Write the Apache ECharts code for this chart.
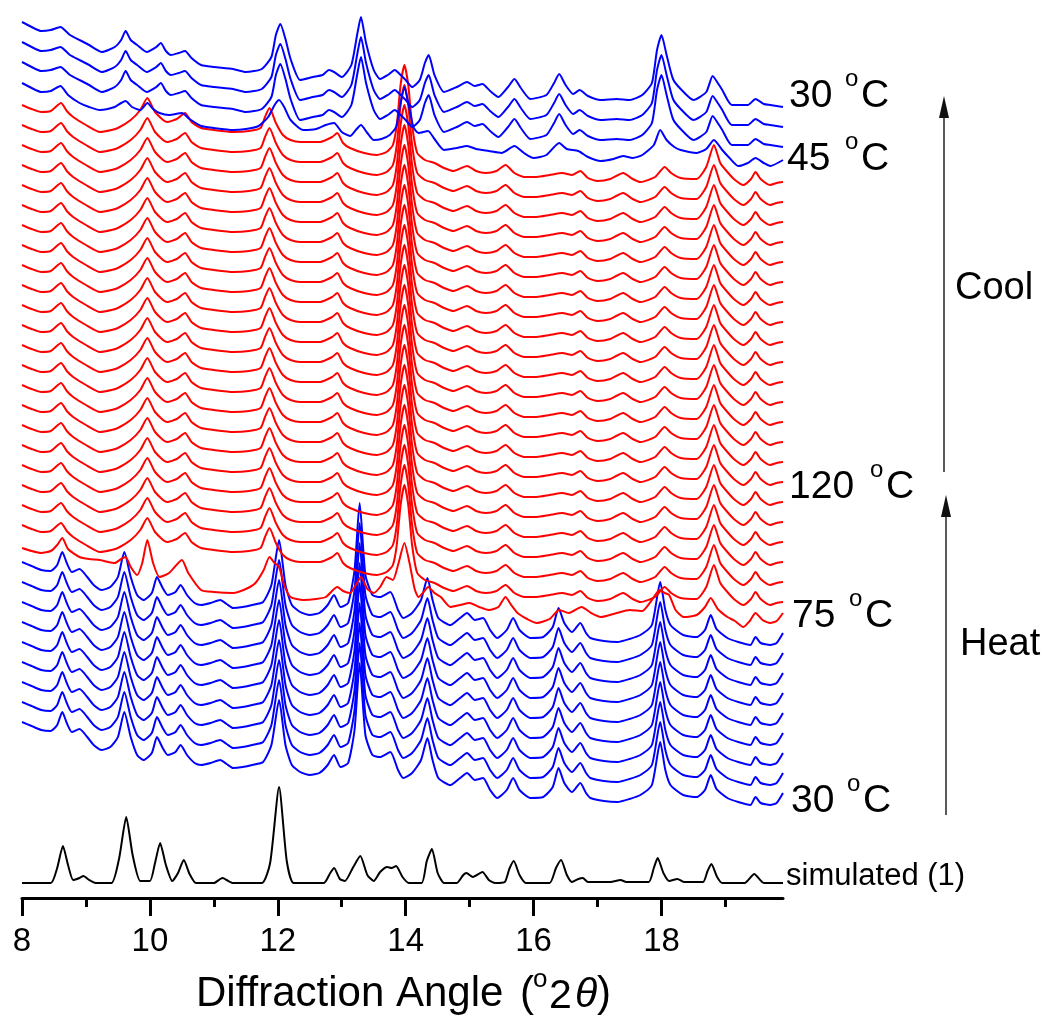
<!DOCTYPE html>
<html><head><meta charset="utf-8">
<script src="https://cdn.jsdelivr.net/npm/echarts@6/dist/echarts.min.js"></script>
<style>html,body{margin:0;padding:0;background:#fff}#c{width:1050px;height:1018px}</style>
</head><body><div id="c"></div>
<script>
// ---- data (2theta, intensity above each trace's baseline) ----
const simulated = [[8.0,0],[8.45,0],[8.55,15],[8.64,37],[8.72,18],[8.8,3],[8.9,5],[8.96,7],[9.05,3],[9.15,0],[9.4,0],[9.52,25],[9.63,66],[9.73,28],[9.85,2],[10.0,2],[10.08,20],[10.16,40],[10.25,18],[10.35,2],[10.44,10],[10.53,23],[10.62,9],[10.72,0],[11.0,0],[11.1,4],[11.14,5],[11.2,3],[11.3,0],[11.75,0],[11.88,20],[12.02,96],[12.14,22],[12.25,0],[12.72,0],[12.82,10],[12.88,15],[12.97,4],[13.05,2],[13.18,16],[13.29,27],[13.4,8],[13.5,2],[13.6,11],[13.71,16],[13.78,15],[13.85,17],[13.95,6],[14.05,0],[14.25,0],[14.33,22],[14.41,34],[14.5,10],[14.6,0],[14.8,0],[14.9,8],[14.95,10],[15.05,6],[15.2,11],[15.3,3],[15.4,0],[15.55,1],[15.62,14],[15.69,22],[15.78,8],[15.88,0],[16.25,0],[16.35,15],[16.43,23],[16.52,8],[16.6,1],[16.7,4],[16.77,5],[16.85,1],[17.2,1],[17.36,3],[17.45,1],[17.8,1],[17.88,15],[17.94,25],[18.03,10],[18.12,2],[18.25,4],[18.35,1],[18.65,1],[18.72,12],[18.78,19],[18.87,6],[18.95,0],[19.3,0],[19.45,9],[19.6,0],[19.9,0]];
const simulatedBaseline = 15;

const heatBlue = [[8.0,83],[8.15,79],[8.3,75],[8.45,74],[8.55,80],[8.63,93],[8.7,82],[8.78,73],[8.9,76],[9.02,68],[9.12,60],[9.25,55],[9.38,58],[9.5,68],[9.6,93],[9.7,68],[9.8,50],[9.9,45],[10.03,52],[10.11,68],[10.2,57],[10.28,50],[10.4,53],[10.48,60],[10.58,50],[10.7,42],[10.8,40],[10.95,42],[11.1,45],[11.2,41],[11.3,37],[11.45,38],[11.6,40],[11.77,43],[11.9,60],[12.02,105],[12.12,60],[12.22,40],[12.35,33],[12.5,30],[12.65,32],[12.78,40],[12.88,50],[12.98,38],[13.1,42],[13.2,75],[13.28,142],[13.37,70],[13.48,50],[13.6,48],[13.76,53],[13.88,35],[13.96,27],[14.1,32],[14.24,45],[14.34,67],[14.42,45],[14.51,27],[14.7,20],[14.85,27],[14.96,32],[15.08,25],[15.21,27],[15.32,15],[15.43,7],[15.58,15],[15.68,27],[15.78,15],[15.95,7],[16.15,8],[16.3,18],[16.39,37],[16.48,22],[16.6,13],[16.73,22],[16.82,12],[16.89,7],[17.1,4],[17.31,3],[17.5,6],[17.67,10],[17.85,20],[17.98,63],[18.06,35],[18.14,20],[18.34,10],[18.55,8],[18.68,15],[18.77,30],[18.86,16],[19.03,7],[19.2,3],[19.39,0],[19.47,8],[19.55,2],[19.7,0],[19.8,2],[19.9,12]];

const transition75 = [[8.0,77],[8.15,74],[8.3,72],[8.45,74],[8.55,80],[8.63,87],[8.72,76],[8.9,68],[9.05,66],[9.22,65],[9.35,63],[9.45,62],[9.55,66],[9.62,68],[9.7,58],[9.8,50],[9.88,62],[9.96,85],[10.05,62],[10.15,48],[10.3,52],[10.5,65],[10.6,52],[10.8,35],[11.0,33],[11.3,32],[11.5,36],[11.65,42],[11.78,55],[11.87,68],[11.95,62],[12.02,58],[12.1,40],[12.2,28],[12.4,25],[12.6,26],[12.75,28],[12.93,38],[13.02,34],[13.13,32],[13.22,40],[13.3,48],[13.4,36],[13.5,32],[13.6,38],[13.7,48],[13.8,45],[13.88,60],[13.98,82],[14.06,62],[14.14,36],[14.2,28],[14.28,33],[14.35,38],[14.45,32],[14.55,28],[14.7,18],[14.85,20],[15.0,22],[15.15,18],[15.3,15],[15.45,18],[15.56,28],[15.65,20],[15.75,12],[15.9,6],[16.05,2],[16.25,6],[16.4,15],[16.55,12],[16.75,18],[16.9,12],[17.05,8],[17.3,12],[17.5,15],[17.7,14],[17.85,25],[17.97,35],[18.05,32],[18.12,30],[18.22,15],[18.35,8],[18.55,10],[18.68,18],[18.77,27],[18.88,16],[19.03,8],[19.15,4],[19.28,-2],[19.38,4],[19.47,12],[19.58,5],[19.7,2],[19.8,4],[19.9,12]];

const redPhase = [[8.0,80],[8.15,76],[8.3,73],[8.45,74],[8.61,82],[8.7,74],[8.8,68],[9.0,60],[9.22,53],[9.4,55],[9.5,57],[9.7,65],[9.85,75],[9.96,87],[10.08,73],[10.27,63],[10.42,66],[10.55,72],[10.65,63],[10.8,57],[11.0,55],[11.3,53],[11.55,54],[11.73,57],[11.8,68],[11.87,77],[11.97,62],[12.08,50],[12.2,45],[12.35,43],[12.66,43],[12.85,48],[12.93,52],[13.02,42],[13.13,37],[13.35,32],[13.55,30],[13.7,33],[13.8,40],[13.86,60],[13.92,100],[13.98,120],[14.04,100],[14.1,60],[14.18,32],[14.3,25],[14.45,22],[14.6,17],[14.75,14],[14.96,19],[15.1,14],[15.25,12],[15.42,14],[15.56,20],[15.7,12],[15.85,8],[16.05,8],[16.25,10],[16.45,12],[16.6,10],[16.73,14],[16.85,7],[17.0,4],[17.2,6],[17.4,12],[17.55,6],[17.67,3],[17.9,8],[18.05,18],[18.15,12],[18.3,7],[18.55,6],[18.7,18],[18.82,40],[18.92,22],[19.03,13],[19.15,5],[19.28,0],[19.4,6],[19.47,13],[19.55,6],[19.7,0],[19.8,2],[19.9,3]];

const cool45 = [[8.0,82],[8.15,77],[8.3,73],[8.45,74],[8.6,79],[8.72,70],[8.9,62],[9.05,58],[9.22,55],[9.45,58],[9.55,62],[9.62,64],[9.72,58],[9.85,55],[9.96,62],[10.05,56],[10.15,52],[10.3,50],[10.5,52],[10.62,46],[10.8,39],[11.0,37],[11.3,35],[11.5,36],[11.7,39],[11.85,48],[11.95,60],[12.02,65],[12.1,58],[12.2,45],[12.4,35],[12.6,36],[12.75,40],[12.88,42],[13.0,33],[13.13,29],[13.22,35],[13.3,40],[13.4,32],[13.5,25],[13.62,26],[13.75,30],[13.85,38],[13.92,62],[13.98,78],[14.04,62],[14.12,38],[14.2,32],[14.35,34],[14.45,26],[14.6,15],[14.8,17],[14.96,19],[15.1,16],[15.3,14],[15.5,12],[15.7,19],[15.85,12],[16.0,7],[16.2,10],[16.4,22],[16.52,16],[16.7,14],[16.85,8],[17.05,4],[17.25,6],[17.4,9],[17.55,7],[17.7,10],[17.88,20],[17.98,35],[18.08,25],[18.2,18],[18.3,15],[18.55,12],[18.7,16],[18.82,25],[18.95,15],[19.05,8],[19.2,-1],[19.35,2],[19.47,7],[19.6,2],[19.7,-1],[19.9,5]];

const coolBlue = [[8.0,83],[8.15,78],[8.3,74],[8.45,75],[8.6,78],[8.75,70],[8.9,65],[9.05,60],[9.25,53],[9.45,58],[9.55,65],[9.62,74],[9.7,65],[9.8,60],[9.95,53],[10.1,58],[10.17,62],[10.25,54],[10.33,50],[10.45,52],[10.55,54],[10.65,47],[10.8,40],[11.0,38],[11.3,36],[11.5,33],[11.75,36],[11.9,48],[11.97,70],[12.04,81],[12.12,66],[12.2,46],[12.35,25],[12.55,28],[12.7,30],[12.8,35],[12.88,33],[13.0,28],[13.15,40],[13.24,70],[13.3,88],[13.38,62],[13.5,35],[13.6,26],[13.72,30],[13.83,35],[13.92,30],[14.0,25],[14.1,18],[14.22,25],[14.3,42],[14.36,50],[14.45,30],[14.6,13],[14.8,18],[14.96,23],[15.08,19],[15.2,21],[15.32,14],[15.45,8],[15.6,18],[15.7,26],[15.8,17],[15.95,6],[16.2,10],[16.32,22],[16.4,31],[16.5,20],[16.62,11],[16.72,15],[16.85,9],[17.05,5],[17.3,6],[17.5,5],[17.7,10],[17.85,22],[17.93,55],[18.0,70],[18.08,50],[18.18,26],[18.3,16],[18.5,5],[18.7,13],[18.8,29],[18.88,22],[18.95,15],[19.1,0],[19.35,0],[19.47,6],[19.6,1],[19.7,0],[19.8,-1],[19.9,-2]];

// stacking baselines of the 36 measured traces (bottom to top)
const traceOffsets = [93,113,133,153,173,193,213,233,253,273,293,313,333,353,373,393,413,433,453,473,493,513,533,553,573,593,613,633,653,673,693,713,733,753,773,793];
const traceKinds = ['heat','heat','heat','heat','heat','heat','heat','heat','heat','trans',
  'red','red','red','red','red','red','red','red','red','red','red','red','red','red','red','red','red','red','red','red','red','red',
  'cool45','cool','cool','cool'];
const traceTemps = [30,35,40,45,50,55,60,65,70,75,80,85,90,95,100,110,120,120,115,110,105,100,95,90,85,80,75,70,65,60,55,50,45,40,35,30];
const majorTicks = [8,10,12,14,16,18];
const minorTicks = [9,11,13,15,17,19];

// ---- chart ----
const patterns = {heat: heatBlue, trans: transition75, red: redPhase, cool45: cool45, cool: coolBlue};
const colors = {heat:'#0000ff', trans:'#ff0000', red:'#ff0000', cool45:'#0000ff', cool:'#0000ff'};
const FONT = '"Liberation Sans", Arial, sans-serif';

const series = traceKinds.map((k, i) => ({
  type: 'line', name: traceTemps[i] + ' °C', xAxisIndex: 0, yAxisIndex: 0,
  data: patterns[k].map(p => [p[0], p[1] + traceOffsets[i]]),
  showSymbol: false, smooth: 0.2, silent: true,
  lineStyle: {color: colors[k], width: 2}
}));
series.push({
  type: 'line', name: 'simulated (1)',
  data: simulated.map(p => [p[0], p[1] + simulatedBaseline]),
  showSymbol: false, smooth: 0.2, silent: true,
  lineStyle: {color: '#000', width: 2}
});

function txt(s, x, y, size, italic) {
  return {type: 'text', x: x, y: y, silent: true, z: 100,
    style: {text: s, fontSize: size, fontFamily: FONT, fontStyle: italic ? 'italic' : 'normal',
      fill: '#000', align: 'left', verticalAlign: 'middle', textAlign: 'left', textVerticalAlign: 'middle'}};
}
function arrow(x, yBottom, yTip) {
  return [
    {type: 'line', silent: true, shape: {x1: x, y1: yBottom, x2: x, y2: yTip + 18}, style: {stroke: '#222', lineWidth: 1.5}},
    {type: 'polygon', silent: true, shape: {points: [[x - 5, yTip + 22], [x, yTip], [x + 5, yTip + 22]]}, style: {fill: '#111'}}
  ];
}
function tempLabel(t, x, y, oX, cX) {
  return [txt(t, x, y, 39), txt('o', oX, y - 17, 24), txt('C', cX, y, 39)];
}

const graphic = [].concat(
  tempLabel('30', 789, 96, 845, 861),
  tempLabel('45', 787, 159, 845, 861),
  tempLabel('120', 789, 487, 870, 886),
  tempLabel('75', 792, 616, 849, 865),
  tempLabel('30', 791, 801, 847, 863),
  [txt('simulated (1)', 786, 876, 31),
   txt('Cool', 955, 289, 38),
   txt('Heat', 960, 645, 38),
   txt('Diffraction Angle', 196, 994, 42),
   txt('(', 520, 994, 42),
   txt('o', 533, 980, 26),
   txt('2', 549, 997, 41),
   txt('\u03b8', 575, 996, 41, true),
   txt(')', 597, 994, 42)],
  arrow(944, 472, 96),
  arrow(946, 815, 495)
);

const chart = echarts.init(document.getElementById('c'), null, {renderer: 'canvas'});
chart.setOption({
  animation: false,
  backgroundColor: '#fff',
  grid: {left: 22, right: 267, top: 0, bottom: 120, containLabel: false},
  xAxis: [{
    type: 'value', min: 8, max: 19.9, position: 'bottom',
    axisLine: {show: true, onZero: false, lineStyle: {color: '#000', width: 3}},
    axisTick: {show: true, length: 18, lineStyle: {color: '#000', width: 3}, customValues: majorTicks},
    axisLabel: {show: true, color: '#000', fontSize: 33, fontFamily: FONT, margin: 27, customValues: majorTicks},
    splitLine: {show: false}
  }, {
    type: 'value', min: 8, max: 19.9, position: 'bottom',
    axisLine: {show: false},
    axisTick: {show: true, length: 9, lineStyle: {color: '#000', width: 3}, customValues: minorTicks},
    axisLabel: {show: false},
    splitLine: {show: false}
  }],
  yAxis: {type: 'value', min: 0, max: 898, show: false},
  series: series,
  graphic: graphic
});
</script>
</body></html>
